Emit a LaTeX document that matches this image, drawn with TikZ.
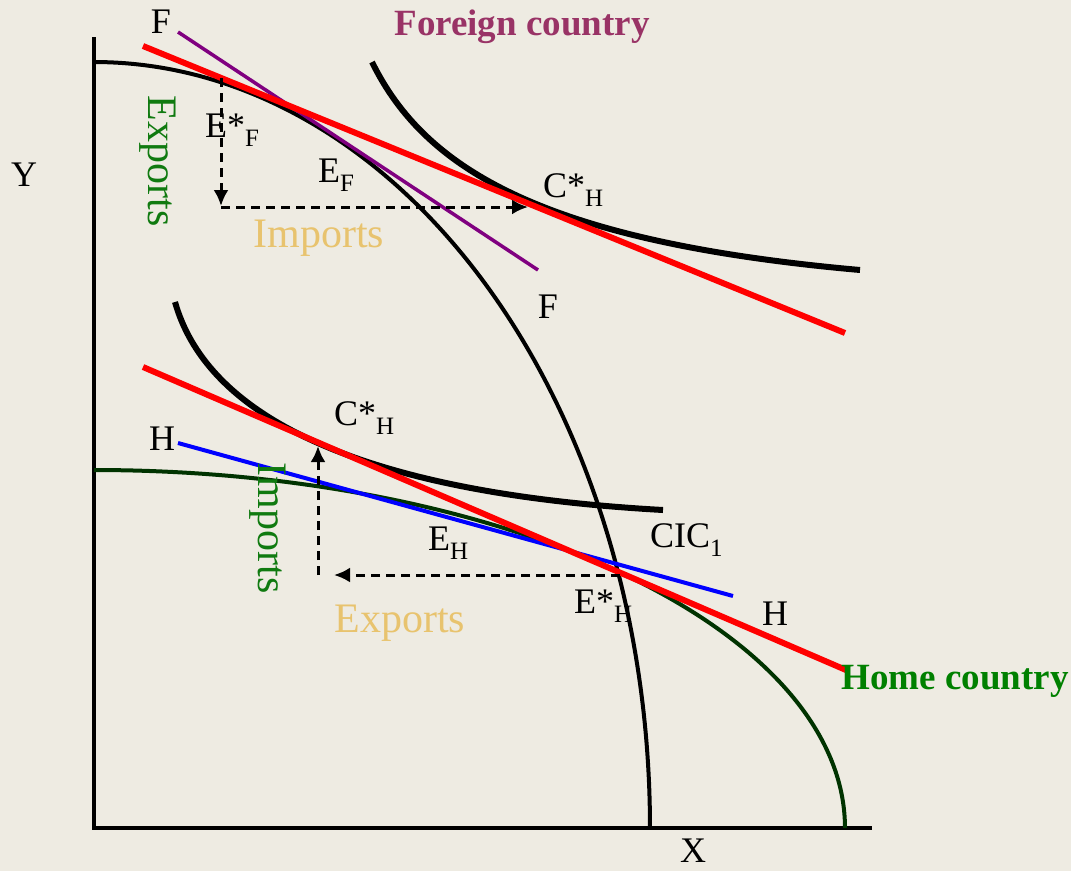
\documentclass[tikz,border=0pt]{standalone}
\usepackage{fontspec}
\setmainfont{Liberation Serif}
\usetikzlibrary{arrows.meta}
\definecolor{bgc}{HTML}{EEEBE2}
\definecolor{plum}{HTML}{993366}
\definecolor{homegreen}{HTML}{008000}
\definecolor{rotgreen}{HTML}{107A10}
\definecolor{ppfgreen}{HTML}{003300}
\definecolor{tan}{HTML}{E8C36E}
\definecolor{purp}{HTML}{800080}
\newcommand\subs[1]{\raisebox{-0.27em}{\fontsize{25}{25}\selectfont #1}}
\begin{document}
\begin{tikzpicture}[x=1pt,y=-1pt,
  lbl/.style={inner sep=0pt, font=\fontsize{36}{40}\selectfont},
  biglbl/.style={inner sep=0pt, font=\fontsize{42}{46}\selectfont},
  ttl/.style={inner sep=0pt, font=\fontsize{37}{42}\selectfont\bfseries},
  axis/.style={line width=4pt},
  ppf/.style={line width=4pt},
  cic/.style={line width=6pt},
  tot/.style={line width=6pt, red},
  dasharrow/.style={line width=3pt, dash pattern=on 9pt off 6pt, -{Latex[length=16pt,width=15pt]}}
]
\fill[bgc] (0,0) rectangle (1071,871);
\useasboundingbox (0,0) rectangle (1071,871);

% axes
\coordinate (ytop) at (94,37);
\coordinate (origin) at (94,828);
\coordinate (xend) at (872,828);
\draw[axis] (ytop) -- (origin) -- (xend);

% Foreign PPF (black)
\draw[ppf] plot[domain=0:90, samples=90, smooth] ({94+556*cos(\x)},{828-766*sin(\x)});
% Home PPF (dark green)
\draw[ppf, ppfgreen] plot[domain=0:90, samples=90, smooth] ({94+751*cos(\x)},{828-358*sin(\x)});

% Foreign CIC
\coordinate (fc0) at (372,62);
\coordinate (fc1) at (860,270);
\draw[cic] (fc0) .. controls (425,170) and (545,242) .. (fc1);
% Home CIC
\coordinate (hc0) at (175,302);
\coordinate (hc1) at (663,510);
\draw[cic] (hc0) .. controls (205,408) and (340,492) .. (hc1);

% Foreign price lines
\coordinate (fp0) at (178,32);
\coordinate (fp1) at (538,270);
\draw[line width=3.5pt, purp] (fp0) -- (fp1);
\coordinate (fr0) at (143,46);
\coordinate (fr1) at (845,333);
\draw[tot] (fr0) -- (fr1);

% Home price lines
\coordinate (hb0) at (178,443);
\coordinate (hb1) at (733,596);
\draw[line width=4pt, blue] (hb0) -- (hb1);
\coordinate (hr0) at (143,367);
\coordinate (hr1) at (846,670);
\draw[tot] (hr0) -- (hr1);

% dashed trade triangles
\coordinate (efs) at (221,78);
\coordinate (efc) at (221,207);
\coordinate (cfs) at (528,207);
\draw[dasharrow] (efs) -- (221,206);
\draw[dasharrow] (efc) -- (cfs);
\coordinate (ehs) at (620,575);
\coordinate (ehc) at (318,575);
\coordinate (chs) at (318,446);
\draw[dasharrow] (ehs) -- (334,575);
\draw[dasharrow] (ehc) -- (chs);

% labels
\node[lbl] (Y) at (24,175) {Y};
\node[lbl] (X) at (693,851) {X};
\node[lbl] (F1) at (161,22) {F};
\node[lbl] (F2) at (548,307) {F};
\node[lbl, anchor=base west] (H1) at (149,450) {H};
\node[lbl, anchor=base west] (H2) at (762,625) {H};
\node[ttl, plum, anchor=base] (fc) at (522,35) {Foreign country};
\node[ttl, homegreen, anchor=base] (hc) at (955,689) {Home country};
\node[lbl, anchor=base west] (EsF) at (205,137) {E*\subs{F}};
\node[lbl, anchor=base west] (EF) at (318,182) {E\subs{F}};
\node[lbl, anchor=base west] (CsH1) at (543,197) {C*\subs{H}};
\node[lbl, anchor=base west] (CsH2) at (334,425) {C*\subs{H}};
\node[lbl, anchor=base west] (EH) at (428,550) {E\subs{H}};
\node[lbl, anchor=base west] (EsH) at (574,613) {E*\subs{H}};
\node[lbl, anchor=base west] (CIC) at (650,547) {CIC\subs{1}};
\node[biglbl, tan, anchor=base] (imp1) at (319,247) {Imports};
\node[biglbl, tan, anchor=base] (exp2) at (400,632) {Exports};
\node[biglbl, rotgreen, rotate=-90] (exp1) at (158,161) {Exports};
\node[biglbl, rotgreen, rotate=-90] (imp2) at (268,528) {Imports};
\end{tikzpicture}
\end{document}
